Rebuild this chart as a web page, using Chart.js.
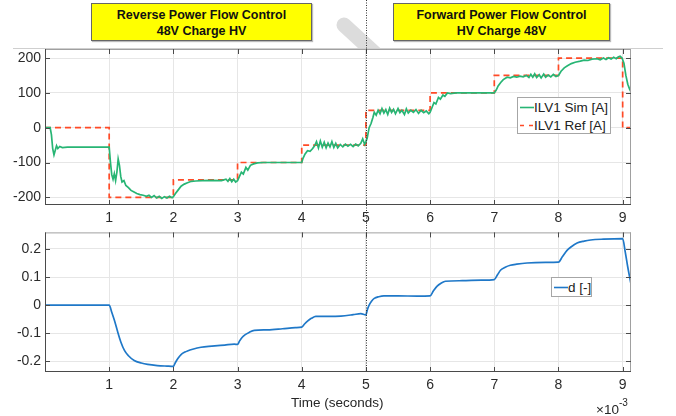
<!DOCTYPE html>
<html>
<head>
<meta charset="utf-8">
<script src="https://cdn.jsdelivr.net/npm/chart.js"></script>
<style>
  body { margin: 0; width: 676px; height: 416px; background: #fff; position: relative; overflow: hidden;
         font-family: 'Liberation Sans', Arial, sans-serif; color: #262626; }
  canvas { position: absolute; left: 0; }
  .banner { position: absolute; top: 3px; height: 38px; box-sizing: border-box; padding-top: 3px;
            background: #ffff00; border: 1px solid #666; box-shadow: 1px 1px 1px #bbb;
            font-weight: bold; font-size: 12.5px; line-height: 16px; text-align: center; color: #111; }
  .legend { position: absolute; background: #fff; border: 1px solid #a6a6a6; font-size: 13.5px; color: #222; }
  .legend .row { display: flex; align-items: center; height: 18px; white-space: nowrap; }
  .legend svg { flex: none; }
  .note { position: absolute; font-size: 13.5px; white-space: nowrap; }
</style>
</head>
<body>
<!-- screenshot bits: grey smudge and the long rule over the top plot -->
<svg class="abs" style="position:absolute;left:0;top:0" width="676" height="48">
  <line x1="344" y1="25" x2="380" y2="58" stroke="#dcdcdc" stroke-width="15" stroke-linecap="round"/>
</svg>
<div style="position:absolute;left:13px;top:48px;width:650px;height:1px;background:#cfcfcf"></div>

<div class="banner" style="left:91px;width:221px">Reverse Power Flow Control<br>48V Charge HV</div>
<div class="banner" style="left:393px;width:217px">Forward Power Flow Control<br>HV Charge 48V</div>

<canvas id="top" width="676" height="228" style="top:0"></canvas>
<canvas id="bottom" width="676" height="196" style="top:220px"></canvas>

<div id="legTop" class="legend" style="left:517px;top:97px;width:92px;height:35px"></div>
<div id="legBot" class="legend" style="left:551px;top:277px;width:39px;height:18px"></div>

<div class="note" style="left:291px;top:395px">Time (seconds)</div>
<div class="note" style="left:596px;top:399px">&times;10<sup style="font-size:10px;position:relative;top:-2px">-3</sup></div>

<script>
// time in units of 1e-3 s (axis shows x10^-3)
const xMax = 9.13;
const xTicks = [1, 2, 3, 4, 5, 6, 7, 8, 9];
const splitAt = 5;

const iTicks = [-200, -100, 0, 100, 200];
const dTicks = [-0.2, -0.1, 0, 0.1, 0.2];

// ILV1 Sim [A]  [t, I]
const simPts = [
  [0,0],[0.08,0],[0.1,-20],[0.12,-60],[0.14,-78],[0.16,-65],[0.18,-52],[0.2,-60],[0.23,-54],[0.27,-57],[0.35,-56],[0.6,-56],[1.0,-56],
  [1.02,-100],[1.04,-135],[1.06,-148],[1.08,-132],[1.1,-152],[1.12,-128],[1.14,-90],[1.16,-108],[1.18,-140],[1.2,-156],[1.23,-152],
  [1.26,-166],[1.3,-172],[1.34,-180],[1.38,-184],[1.43,-189],[1.48,-192],[1.53,-194],[1.58,-197],[1.62,-194],[1.66,-200],[1.7,-195],
  [1.74,-202],[1.78,-197],[1.82,-203],[1.86,-198],[1.9,-202],[1.94,-197],[1.98,-201],[2.0,-198],
  [2.03,-190],[2.07,-180],[2.12,-168],[2.17,-162],[2.22,-158],[2.28,-154],[2.35,-153],[2.45,-152],[2.6,-151],[2.75,-152],[2.82,-148],
  [2.85,-154],[2.88,-146],[2.91,-155],[2.94,-148],[2.97,-156],[3.0,-152],
  [3.03,-140],[3.06,-128],[3.09,-133],[3.13,-114],[3.16,-122],[3.2,-108],[3.25,-104],[3.31,-101],[3.4,-100],[3.7,-100],[4.0,-100],
  [4.02,-88],[4.05,-76],[4.09,-66],[4.13,-68],[4.17,-60],[4.2,-52],[4.23,-40],[4.26,-58],[4.29,-38],[4.32,-56],[4.35,-42],[4.38,-58],
  [4.41,-44],[4.44,-55],[4.47,-40],[4.5,-57],[4.53,-45],[4.56,-58],[4.6,-48],[4.64,-55],[4.68,-47],[4.72,-53],[4.76,-48],[4.8,-54],
  [4.84,-47],[4.88,-52],[4.92,-45],[4.95,-32],[4.98,-48],[5.0,-40],
  [5.02,-30],[5.05,0],[5.08,12],[5.11,30],[5.13,44],[5.16,36],[5.19,50],[5.22,40],[5.25,55],[5.28,42],[5.31,52],[5.34,38],[5.37,56],
  [5.4,44],[5.43,53],[5.46,40],[5.5,55],[5.53,43],[5.56,50],[5.6,38],[5.63,54],[5.66,42],[5.7,50],[5.74,44],[5.78,52],[5.82,41],
  [5.86,50],[5.9,43],[5.94,48],[5.98,40],[6.0,44],
  [6.03,58],[6.06,72],[6.09,68],[6.13,87],[6.16,82],[6.2,94],[6.23,90],[6.27,100],[6.32,98],[6.4,100],[6.7,100],[7.0,100],
  [7.03,108],[7.06,120],[7.1,130],[7.14,138],[7.2,145],[7.25,143],[7.3,147],[7.35,145],[7.4,148],[7.45,146],[7.5,150],[7.54,144],
  [7.57,153],[7.6,145],[7.63,155],[7.66,144],[7.7,152],[7.73,143],[7.77,154],[7.8,145],[7.84,151],[7.88,146],[7.92,153],[7.96,147],[8.0,150],
  [8.04,162],[8.09,172],[8.14,178],[8.2,184],[8.26,188],[8.34,191],[8.4,194],[8.46,193],[8.52,197],[8.6,198],[8.65,195],[8.7,200],
  [8.74,196],[8.78,201],[8.82,197],[8.86,202],[8.9,198],[8.93,203],[8.96,205],[8.99,200],[9.02,185],[9.05,150],[9.08,125],[9.11,110],[9.13,103]
];

// ILV1 Ref [A] step reference
const refPts = [
  [0,0],[1,0],[1,-200],[2,-200],[2,-150],[3,-150],[3,-100],[4,-100],[4,-50],[5,-50],
  [5,50],[6,50],[6,100],[7,100],[7,150],[8,150],[8,200],[9,200],[9,0],[9.13,0]
];

// d [-]
const dPts = [
  [0,0],[1.0,0],[1.04,-0.025],[1.08,-0.053],[1.13,-0.093],[1.18,-0.13],[1.24,-0.162],[1.3,-0.18],[1.39,-0.197],[1.5,-0.206],
  [1.6,-0.211],[1.75,-0.215],[1.9,-0.217],[2.0,-0.218],[2.03,-0.205],[2.07,-0.19],[2.12,-0.176],[2.18,-0.167],[2.22,-0.163],
  [2.3,-0.157],[2.43,-0.15],[2.6,-0.146],[2.8,-0.142],[2.95,-0.139],[3.0,-0.14],[3.03,-0.128],[3.07,-0.115],[3.12,-0.105],
  [3.18,-0.097],[3.26,-0.09],[3.47,-0.088],[3.7,-0.084],[3.9,-0.08],[4.0,-0.078],[4.04,-0.068],[4.09,-0.057],[4.15,-0.047],
  [4.22,-0.04],[4.4,-0.04],[4.61,-0.039],[4.8,-0.034],[4.92,-0.03],[5.0,-0.035],[5.02,-0.018],[5.05,0.0],[5.09,0.015],
  [5.13,0.024],[5.2,0.03],[5.28,0.033],[5.5,0.033],[5.8,0.032],[6.0,0.033],[6.05,0.05],[6.11,0.068],[6.17,0.078],[6.24,0.085],
  [6.5,0.087],[6.8,0.089],[7.0,0.091],[7.05,0.108],[7.1,0.125],[7.17,0.135],[7.25,0.142],[7.35,0.146],[7.51,0.15],[7.8,0.152],
  [8.0,0.153],[8.06,0.172],[8.13,0.194],[8.2,0.208],[8.29,0.221],[8.4,0.228],[8.5,0.232],[8.7,0.235],[9.0,0.237],[9.04,0.19],
  [9.08,0.135],[9.13,0.075]
];

Chart.defaults.font.family = "'Liberation Sans', Arial, sans-serif";
Chart.defaults.font.size = 14;
Chart.defaults.color = '#2b2b2b';

const toXY = pts => pts.map(p => ({ x: p[0], y: p[1] }));

// matlab-ish box, inward tick marks and the dotted split line
const frame = {
  id: 'frame',
  afterDatasetsDraw(chart, args, opts) {
    const { ctx, chartArea: a, scales: { x, y } } = chart;
    ctx.save();
    ctx.lineWidth = 1;
    ctx.strokeStyle = '#a0a0a0';
    ctx.beginPath();
    ctx.moveTo(a.left, a.top + 0.5); ctx.lineTo(a.right, a.top + 0.5);
    ctx.moveTo(a.right - 0.5, a.top); ctx.lineTo(a.right - 0.5, a.bottom);
    ctx.stroke();
    ctx.strokeStyle = '#4a4a4a';
    ctx.beginPath();
    ctx.moveTo(a.left + 0.5, a.top); ctx.lineTo(a.left + 0.5, a.bottom);
    ctx.moveTo(a.left, a.bottom - 0.5); ctx.lineTo(a.right, a.bottom - 0.5);
    x.ticks.forEach(t => {
      const px = Math.round(x.getPixelForValue(t.value)) + 0.5;
      ctx.moveTo(px, a.bottom); ctx.lineTo(px, a.bottom - 5);
      ctx.moveTo(px, a.top); ctx.lineTo(px, a.top + 5);
    });
    y.ticks.forEach(t => {
      const py = Math.round(y.getPixelForValue(t.value)) + 0.5;
      ctx.moveTo(a.left, py); ctx.lineTo(a.left + 5, py);
      ctx.moveTo(a.right, py); ctx.lineTo(a.right - 5, py);
    });
    ctx.stroke();
    const sx = Math.round(x.getPixelForValue(splitAt)) + 0.5;
    ctx.strokeStyle = '#333';
    ctx.setLineDash([1, 1.5]);
    ctx.beginPath();
    ctx.moveTo(sx, 0);
    ctx.lineTo(sx, opts.toArea ? a.bottom : chart.height);
    ctx.stroke();
    ctx.restore();
  }
};

function axes(yMin, yMax, yTicks, xH, padTop) {
  return {
    responsive: false,
    animation: false,
    layout: { padding: { top: padTop, right: 45, left: 0, bottom: 0 } },
    plugins: { legend: { display: false }, tooltip: { enabled: false } },
    scales: {
      x: {
        type: 'linear', min: 0, max: xMax,
        afterBuildTicks: s => { s.ticks = xTicks.map(v => ({ value: v })); },
        afterFit: s => { s.height = xH; },
        grid: { color: '#e6e6e6', drawTicks: false },
        border: { display: false },
        ticks: { padding: 5, autoSkip: false, maxRotation: 0, callback: v => String(v) }
      },
      y: {
        min: yMin, max: yMax,
        afterBuildTicks: s => { s.ticks = yTicks.map(v => ({ value: v })); },
        afterFit: s => { s.width = 45; },
        grid: { color: '#e6e6e6', drawTicks: false },
        border: { display: false },
        ticks: { padding: 4, callback: v => String(v) }
      }
    }
  };
}

const topOpts = axes(-222, 226, iTicks, 23, 49);
topOpts.plugins.frame = { toArea: false };
const topChart = new Chart(document.getElementById('top'), {
  type: 'line',
  data: {
    datasets: [
      { label: 'ILV1 Sim [A]', data: toXY(simPts), borderColor: '#27b574', borderWidth: 1.7, pointRadius: 0, tension: 0 },
      { label: 'ILV1 Ref [A]', data: toXY(refPts), borderColor: '#ff4a26', borderWidth: 1.7, borderDash: [6, 4], pointRadius: 0, tension: 0 }
    ]
  },
  options: topOpts,
  plugins: [frame]
});

const botOpts = axes(-0.238, 0.259, dTicks, 44, 8);
botOpts.plugins.frame = { toArea: true };
const botChart = new Chart(document.getElementById('bottom'), {
  type: 'line',
  data: {
    datasets: [
      { label: 'd [-]', data: toXY(dPts), borderColor: '#1f78c8', borderWidth: 1.7, pointRadius: 0, cubicInterpolationMode: 'monotone' }
    ]
  },
  options: botOpts,
  plugins: [frame]
});

// legends as html, built from the datasets
function legend(el, chart) {
  chart.data.datasets.forEach(ds => {
    const row = document.createElement('div');
    row.className = 'row';
    const dash = ds.borderDash ? 'stroke-dasharray="4 5"' : '';
    row.innerHTML = '<svg width="16" height="18"><line x1="2" y1="9.5" x2="16" y2="9.5" stroke="' + ds.borderColor +
      '" stroke-width="1.6" ' + dash + '/></svg><span>' + ds.label + '</span>';
    el.appendChild(row);
  });
}
legend(document.getElementById('legTop'), topChart);
legend(document.getElementById('legBot'), botChart);
</script>
</body>
</html>
